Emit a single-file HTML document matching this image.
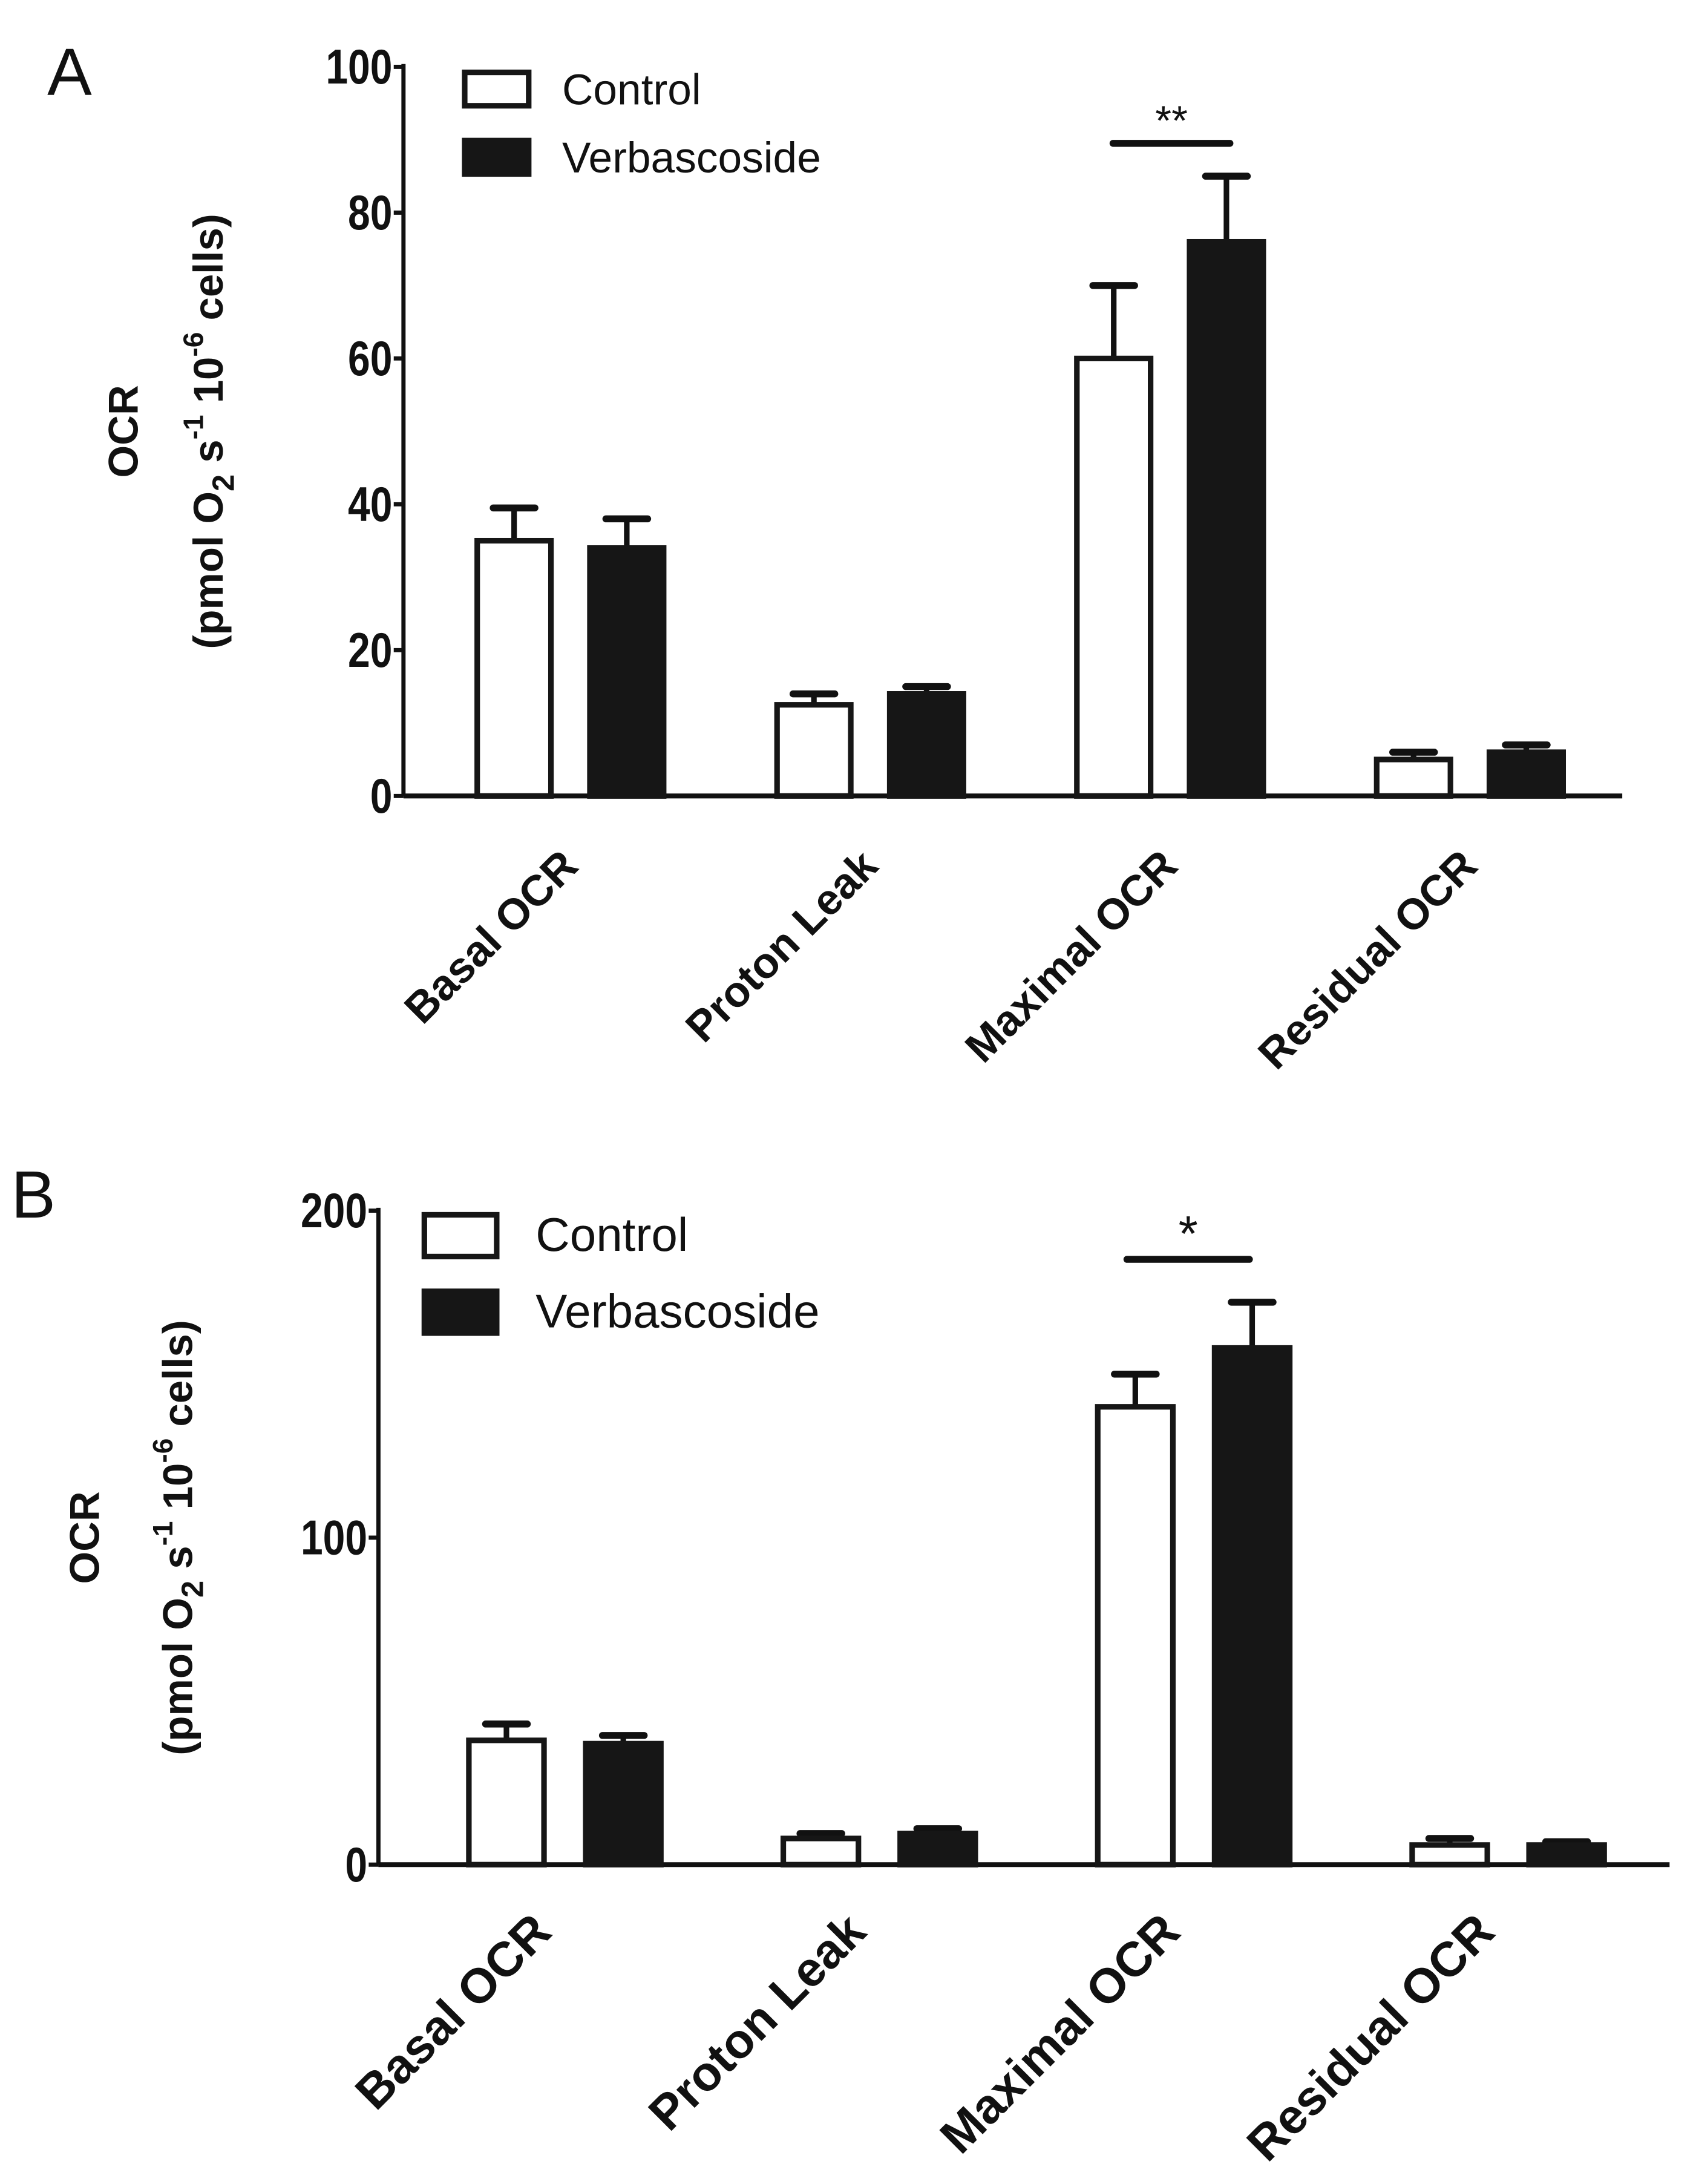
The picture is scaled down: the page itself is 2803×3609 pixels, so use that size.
<!DOCTYPE html>
<html><head><meta charset="utf-8"><style>
html,body{margin:0;padding:0;background:#fff;}
svg{display:block;}
text{font-family:"Liberation Sans",sans-serif;fill:#111;}
</style></head><body>
<svg id="fig" width="2803" height="3609" viewBox="0 0 1219 1569.5" xmlns="http://www.w3.org/2000/svg"></svg>
<script>
const categories = ["Basal OCR","Proton Leak","Maximal OCR","Residual OCR"];
const aControl = [35, 12.5, 60, 5];
const aControlErr = [39.5, 14, 70, 6];
const aVerb = [34, 14, 76, 6];
const aVerbErr = [38, 15, 85, 7];
const aTicks = [0,20,40,60,80,100];
const bControl = [38, 8, 140, 6];
const bControlErr = [43, 9.5, 150, 8];
const bVerb = [37, 9.5, 158, 6];
const bVerbErr = [39.5, 11, 172, 7];
const bTicks = [0,100,200];

const NS="http://www.w3.org/2000/svg";
const svg=document.getElementById('fig');
function mk(tag,attrs,parent){const e=document.createElementNS(NS,tag);for(const k in attrs)e.setAttribute(k,attrs[k]);(parent||svg).appendChild(e);return e;}

function panel(cfg){
  const g=mk('g',{});
  
  
  const y=v=>cfg.y0-(v/cfg.max)*(cfg.y0-cfg.yTop);
  const L=mk('text',{x:cfg.letterX,y:cfg.letterY,'font-size':48},g);L.textContent=cfg.letter;
  
  
  const ya=mk('line',{x1:cfg.ax,y1:cfg.yTop-2,x2:cfg.ax,y2:cfg.y0,stroke:'#111','stroke-width':3},g);
  
  
  const xa=mk('line',{x1:cfg.ax,y1:cfg.y0,x2:cfg.axEnd,y2:cfg.y0,stroke:'#111','stroke-width':3.5},g);
  
  
  cfg.ticks.forEach(t=>{
    mk('line',{x1:cfg.ax-7,y1:y(t),x2:cfg.ax,y2:y(t),stroke:'#111','stroke-width':3},g);
    const tx=mk('text',{x:cfg.ax-8,y:y(t)+12,'font-size':35,'font-weight':'bold','text-anchor':'end',transform:`translate(${cfg.ax-8},0) scale(0.82,1) translate(${-(cfg.ax-8)},0)`},g);
    tx.textContent=t;
    
    
  });
  const yl=mk('text',{x:0,y:0,'font-size':30,'font-weight':'bold','text-anchor':'middle',transform:`translate(${cfg.ylX1},${cfg.ylY}) rotate(-90)`},g);
  yl.textContent='OCR';
  
  
  const yl2=mk('text',{x:0,y:0,'font-size':30,'font-weight':'bold','text-anchor':'middle',transform:`translate(${cfg.ylX2},${cfg.ylY}) rotate(-90)`},g);
  yl2.innerHTML='(pmol O<tspan font-size="22" dy="8">2</tspan><tspan dy="-8"> s</tspan><tspan font-size="20" dy="-14">-1</tspan><tspan dy="14"> 10</tspan><tspan font-size="20" dy="-14">-6</tspan><tspan dy="14"> cells)</tspan>';
  
  
  categories.forEach((c,i)=>{
    const cx=cfg.x0+i*cfg.groupStep;
    [[cfg.ctrl,cfg.ctrlErr,false],[cfg.verb,cfg.verbErr,true]].forEach(([vals,errs,filled],j)=>{
      const bx=cx+(j?cfg.gap/2:-cfg.gap/2-cfg.bw);
      const top=y(vals[i]), et=y(errs[i]);
      const mid=bx+cfg.bw/2;
      const e=mk('line',{x1:mid,y1:top,x2:mid,y2:et,stroke:'#111','stroke-width':4},g);
      
      
      mk('line',{x1:mid-15,y1:et,x2:mid+15,y2:et,stroke:'#111','stroke-width':5,'stroke-linecap':'round'},g);
      const r=mk('rect',{x:bx+2,y:top,width:cfg.bw-4,height:cfg.y0-top,fill:filled?'#161616':'#fff',stroke:'#161616','stroke-width':4},g);
      
      
    });
    const lab=mk('text',{x:0,y:0,'font-size':cfg.labFs,'font-weight':'bold','text-anchor':'end',transform:`translate(${cx+cfg.labDx},${cfg.y0+cfg.labDy}) rotate(-45)`},g);
    lab.textContent=c;
    
    
  });
  const s=mk('line',{x1:cfg.sigX1,y1:cfg.sigY,x2:cfg.sigX2,y2:cfg.sigY,stroke:'#111','stroke-width':5,'stroke-linecap':'round'},g);
  
  
  const st=mk('text',{x:(cfg.sigX1+cfg.sigX2)/2,y:cfg.sigY+cfg.starDy,'font-size':cfg.starSize,'text-anchor':'middle'},g);
  st.textContent=cfg.stars;
  
  
  const lg=mk('g',{},g);
  
  
  mk('rect',{x:cfg.lgX+2,y:cfg.lgY1,width:cfg.lgW-4,height:cfg.lgH,fill:'#fff',stroke:'#161616','stroke-width':4},lg);
  mk('rect',{x:cfg.lgX+2,y:cfg.lgY2,width:cfg.lgW-4,height:cfg.lgH,fill:'#161616',stroke:'#161616','stroke-width':4},lg);
  const t1=mk('text',{x:cfg.lgTX,y:cfg.lgY1+cfg.lgH/2+11,'font-size':cfg.lgFs},lg);t1.textContent='Control';
  
  
  const t2=mk('text',{x:cfg.lgTX,y:cfg.lgY2+cfg.lgH/2+11,'font-size':cfg.lgFs},lg);t2.textContent='Verbascoside';
  
  
}

panel({name:'panel-a',letter:'A',letterX:34,letterY:68,ax:290,axEnd:1166,yTop:48,y0:572,max:100,ticks:aTicks,
  ctrl:aControl,ctrlErr:aControlErr,verb:aVerb,verbErr:aVerbErr,x0:410,groupStep:215.5,bw:57,gap:24,
  labDx:7,labDy:52,labFs:31,ylX1:99,ylX2:160,ylY:310,sigX1:800,sigX2:884,sigY:103,starDy:-6,starSize:30,stars:'**',
  lgX:332,lgY1:52,lgY2:101,lgW:50,lgH:24,lgTX:404,lgFs:31});
panel({name:'panel-b',letter:'B',letterX:8,letterY:875,ax:272,axEnd:1200,yTop:870,y0:1340,max:200,ticks:bTicks,
  ctrl:bControl,ctrlErr:bControlErr,verb:bVerb,verbErr:bVerbErr,x0:406,groupStep:226,bw:58,gap:26,
  labDx:-8,labDy:50,labFs:35,ylX1:71,ylX2:138,ylY:1105,sigX1:810,sigX2:898,sigY:905,starDy:-6,starSize:36,stars:'*',
  lgX:303,lgY1:873,lgY2:928,lgW:56,lgH:30,lgTX:385,lgFs:34});
</script>
</body></html>
